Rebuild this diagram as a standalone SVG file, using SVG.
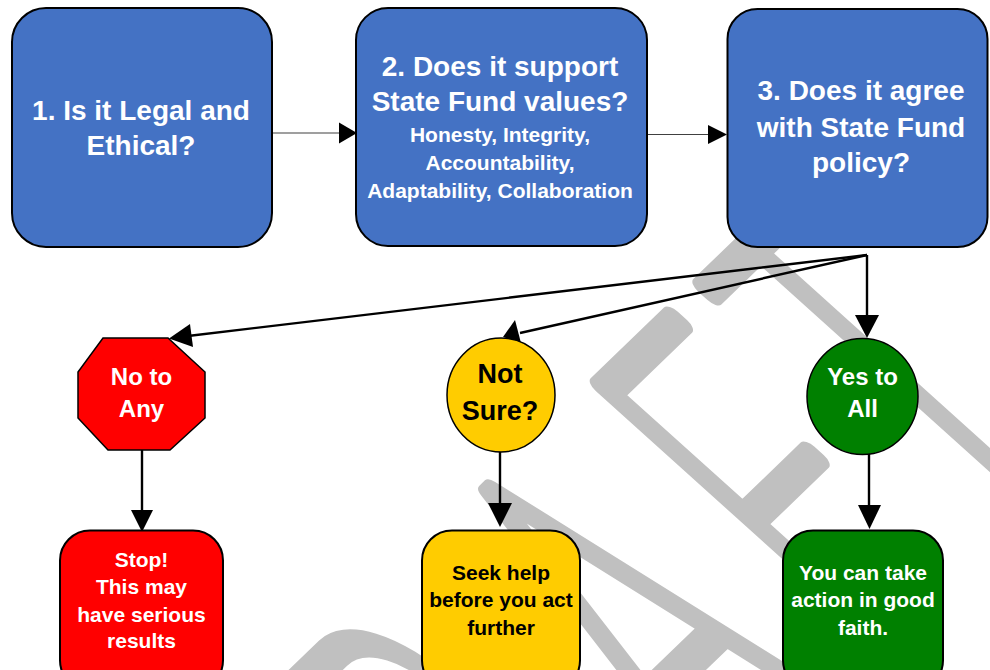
<svg xmlns="http://www.w3.org/2000/svg" xmlns:xlink="http://www.w3.org/1999/xlink" width="990" height="670" viewBox="0 0 990 670">
  <style>
    .q { fill: #4472C4; stroke: #000; stroke-width: 2; }
    .wt { font-family: "Liberation Sans", Arial, sans-serif; font-weight: bold; fill: #fff; text-anchor: middle; }
    .bk { font-family: "Liberation Sans", Arial, sans-serif; font-weight: bold; fill: #000; text-anchor: middle; }
    .thin { stroke: #404040; stroke-width: 1.2; fill: none; }
    .wire { stroke: #000; stroke-width: 2.4; fill: none; }
    .head { fill: #000; }
    .wm { font-family: Inter, Roboto, "Liberation Sans", sans-serif; font-weight: 100; font-size: 545px; vector-effect: non-scaling-stroke; }
  </style>
  <defs>
    <text id="wmt" class="wm" x="-1325 -943 -467 -40 285" y="0">DRAFT</text>
  </defs>
  <rect width="990" height="670" fill="#fff"/>

  <!-- faint DRAFT stamp behind the chart: thin glyphs plus a round pen outline -->
  <g id="watermark" transform="translate(888 660) rotate(-44) skewX(4) scale(0.48 1)">
    <use href="#wmt" xlink:href="#wmt" fill="#C0C0C0" stroke="none"/>
    <use href="#wmt" xlink:href="#wmt" fill="none" stroke="#C0C0C0" stroke-width="20" stroke-linejoin="round"/>
  </g>

  <!-- connectors -->
  <g id="connectors">
    <line class="thin" x1="273" y1="133" x2="340" y2="133"/>
    <polygon class="head" points="339,122.5 357,133 339,143.5"/>
    <line class="thin" x1="648" y1="134.5" x2="709" y2="134.5"/>
    <polygon class="head" points="708,125 727,134.5 708,144"/>

    <line class="wire" x1="867" y1="255" x2="188" y2="336"/>
    <polygon class="head" points="169,338.5 190,324 193,347"/>
    <line class="wire" x1="867" y1="255" x2="520" y2="333"/>
    <polygon class="head" points="503,337 515,320 521,343"/>
    <line class="wire" x1="867" y1="255" x2="867" y2="318"/>
    <polygon class="head" points="855,315 879,315 867,338"/>

    <line class="wire" x1="142" y1="450" x2="142" y2="512"/>
    <polygon class="head" points="131,510 153,510 142,532"/>
    <line class="wire" x1="500" y1="443" x2="500" y2="505"/>
    <polygon class="head" points="488,503 512,503 500,527"/>
    <line class="wire" x1="869" y1="447" x2="869" y2="507"/>
    <polygon class="head" points="858,505 881,505 869.5,529"/>
  </g>

  <!-- question boxes -->
  <g id="q1">
    <rect class="q" x="12" y="8" width="260" height="239" rx="34"/>
    <text class="wt" font-size="28"><tspan x="141" y="120">1. Is it Legal and</tspan><tspan x="141" y="155">Ethical?</tspan></text>
  </g>
  <g id="q2">
    <rect class="q" x="356" y="8" width="291" height="238" rx="32"/>
    <text class="wt" font-size="28"><tspan x="500" y="76">2. Does it support</tspan><tspan x="500" y="111">State Fund values?</tspan></text>
    <text class="wt" font-size="21"><tspan x="500" y="142">Honesty, Integrity,</tspan><tspan x="500" y="170">Accountability,</tspan><tspan x="500" y="198">Adaptability, Collaboration</tspan></text>
  </g>
  <g id="q3">
    <rect class="q" x="727.5" y="9" width="260" height="238" rx="30" stroke-width="3"/>
    <text class="wt" font-size="28"><tspan x="861" y="100">3. Does it agree</tspan><tspan x="861" y="137">with State Fund</tspan><tspan x="861" y="172">policy?</tspan></text>
  </g>

  <!-- answer markers -->
  <g id="no">
    <polygon points="103,338 168,338 205,372 205,418 170,450 108,450 78,418 78,372" fill="#FF0000" stroke="#000" stroke-width="1.5"/>
    <text class="wt" font-size="24"><tspan x="141.5" y="385">No to</tspan><tspan x="141.5" y="417">Any</tspan></text>
  </g>
  <g id="unsure">
    <ellipse cx="501" cy="395" rx="54" ry="57" fill="#FFCC00" stroke="#000" stroke-width="1.5"/>
    <text class="bk" font-size="27"><tspan x="500" y="383">Not</tspan><tspan x="500" y="420">Sure?</tspan></text>
  </g>
  <g id="yes">
    <ellipse cx="862.5" cy="396.5" rx="55.5" ry="58" fill="#008000" stroke="#000" stroke-width="1.5"/>
    <text class="wt" font-size="24"><tspan x="862.5" y="385">Yes to</tspan><tspan x="862.5" y="417">All</tspan></text>
  </g>

  <!-- outcome boxes -->
  <g id="stop">
    <rect x="60" y="530.5" width="163" height="160" rx="30" fill="#FF0000" stroke="#000" stroke-width="2"/>
    <text class="wt" font-size="21"><tspan x="141.5" y="567">Stop!</tspan><tspan x="141.5" y="593.5">This may</tspan><tspan x="141.5" y="621.5">have serious</tspan><tspan x="141.5" y="648">results</tspan></text>
  </g>
  <g id="help">
    <rect x="422" y="530.5" width="158" height="160" rx="30" fill="#FFCC00" stroke="#000" stroke-width="2"/>
    <text class="bk" font-size="21"><tspan x="501" y="580">Seek help</tspan><tspan x="501" y="607">before you act</tspan><tspan x="501" y="635">further</tspan></text>
  </g>
  <g id="go">
    <rect x="783" y="530.5" width="160" height="160" rx="30" fill="#008000" stroke="#000" stroke-width="2"/>
    <text class="wt" font-size="21"><tspan x="863" y="580">You can take</tspan><tspan x="863" y="607">action in good</tspan><tspan x="863" y="635">faith.</tspan></text>
  </g>
</svg>
